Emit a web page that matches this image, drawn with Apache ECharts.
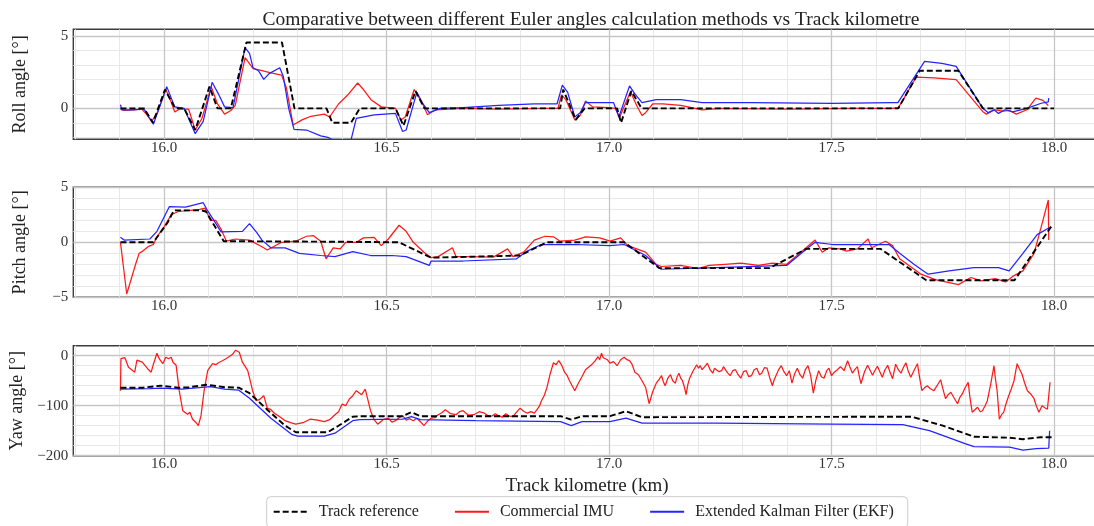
<!DOCTYPE html>
<html>
<head>
<meta charset="utf-8">
<script src="https://cdn.jsdelivr.net/npm/echarts@6/dist/echarts.min.js"></script>
<style>
  html, body { margin: 0; padding: 0; background: #ffffff; }
  #chart { width: 1094px; height: 526px; }
</style>
</head>
<body>
<div id="chart"></div>
<script>
// ---- Tick values -------------------------------------------------------
const xMajorTicks = [16.0, 16.5, 17.0, 17.5, 18.0];
const xMinorTicks = [15.8, 15.9, 16.1, 16.2, 16.3, 16.4, 16.6, 16.7, 16.8, 16.9,
                     17.1, 17.2, 17.3, 17.4, 17.6, 17.7, 17.8, 17.9];
const rollMajorTicks = [0, 5];
const rollMinorTicks = [-2, -1, 1, 2, 3, 4];
const pitchMajorTicks = [-5, 0, 5];
const pitchMinorTicks = [-4, -3, -2, -1, 1, 2, 3, 4];
const yawMajorTicks = [-200, -100, 0];
const yawMinorTicks = [-180, -160, -140, -120, -80, -60, -40, -20];

const seriesNames = ['Track reference', 'Commercial IMU', 'Extended Kalman Filter (EKF)'];

// ---- Roll angle [deg] vs track km ---------------------------------------
const rollRef = [[15.902,0],[15.955,0],[15.975,-1.0],[16.002,1.3],[16.025,0],[16.045,0],[16.07,-1.5],
  [16.102,1.5],[16.12,0],[16.15,0],[16.185,4.55],[16.265,4.55],[16.293,0],[16.365,0],[16.378,-1.0],
  [16.42,-1.0],[16.44,0],[16.52,0],[16.538,-1.2],[16.565,1.2],[16.585,0],[16.89,0],[16.897,1.3],
  [16.925,-0.8],[16.945,0],[17.018,0],[17.027,-1.0],[17.05,1.2],[17.073,0],[17.65,0],[17.698,2.6],
  [17.785,2.6],[17.84,0],[18.0,0]];
const rollIMU = [[15.902,-0.05],[15.91,-0.15],[15.93,-0.1],[15.95,-0.05],[15.96,-0.4],[15.972,-0.9],
  [15.985,-0.3],[16.004,1.3],[16.015,0.5],[16.024,-0.25],[16.035,-0.05],[16.055,-0.05],[16.07,-1.5],
  [16.085,-0.7],[16.106,1.5],[16.12,0.3],[16.136,-0.4],[16.15,-0.15],[16.16,0.2],[16.182,3.5],
  [16.2,2.75],[16.22,2.6],[16.24,2.45],[16.264,2.3],[16.275,1.4],[16.29,-1.15],[16.31,-0.8],
  [16.33,-0.55],[16.36,-0.4],[16.372,-0.6],[16.392,0.3],[16.412,0.9],[16.435,1.75],[16.448,1.3],
  [16.465,0.6],[16.488,0.1],[16.52,0.0],[16.532,-0.8],[16.542,-0.6],[16.562,1.3],[16.578,0.5],
  [16.592,-0.45],[16.61,-0.1],[16.67,0.0],[16.75,-0.05],[16.85,0.0],[16.885,0.0],[16.893,0.93],
  [16.903,0.6],[16.923,-0.8],[16.935,-0.5],[16.947,0.5],[16.963,0.1],[17.0,0.05],[17.014,0.0],
  [17.024,-0.6],[17.048,1.15],[17.062,0.2],[17.074,-0.5],[17.082,-0.3],[17.098,0.3],[17.121,0.3],
  [17.161,0.2],[17.209,-0.1],[17.25,0.0],[17.4,-0.05],[17.55,0.0],[17.637,0.0],[17.65,0.05],
  [17.661,0.6],[17.69,2.15],[17.73,2.1],[17.78,1.98],[17.84,-0.23],[17.848,-0.4],[17.867,-0.1],
  [17.885,-0.2],[17.9,-0.15],[17.915,-0.4],[17.939,-0.1],[17.959,0.7],[17.975,0.55],[17.987,0.2]];
const rollEKF = [[15.902,0.25],[15.905,-0.1],[15.93,-0.1],[15.955,-0.05],[15.976,-1.1],[16.006,1.5],
  [16.024,0.1],[16.045,0.0],[16.07,-1.75],[16.088,-0.9],[16.108,1.8],[16.122,1.0],[16.136,0.1],
  [16.155,0.05],[16.182,4.2],[16.192,3.8],[16.2,2.8],[16.212,2.6],[16.224,2.0],[16.236,2.4],
  [16.26,2.8],[16.268,2.2],[16.28,0.0],[16.292,-1.45],[16.32,-1.5],[16.352,-1.9],[16.368,-2.0],
  [16.38,-2.2],[16.42,-2.2],[16.432,-0.7],[16.472,-0.45],[16.52,-0.35],[16.536,-1.6],[16.544,-1.5],
  [16.568,1.1],[16.58,0.4],[16.596,-0.3],[16.62,0.0],[16.672,0.05],[16.752,0.2],[16.832,0.3],
  [16.883,0.3],[16.895,1.6],[16.907,1.1],[16.923,-0.6],[16.935,-0.3],[16.947,0.4],[17.01,0.4],
  [17.022,-0.6],[17.046,1.55],[17.058,1.0],[17.074,0.4],[17.106,0.6],[17.161,0.6],[17.209,0.4],
  [17.32,0.4],[17.5,0.35],[17.637,0.4],[17.649,0.4],[17.709,3.25],[17.748,3.1],[17.78,2.9],
  [17.84,0.0],[17.852,-0.3],[17.865,-0.1],[17.875,-0.35],[17.89,-0.1],[17.907,-0.25],[17.939,0.0],
  [17.971,0.35],[17.987,0.45],[17.988,0.7]];

// ---- Pitch angle [deg] vs track km --------------------------------------
const pitchRef = [[15.902,0],[15.976,0],[16.008,1.8],[16.022,2.9],[16.084,2.9],[16.094,2.8],
  [16.134,0.1],[16.4,0.05],[16.528,0.0],[16.6,-1.4],[16.8,-1.2],[16.86,0.0],[17.034,0.0],
  [17.113,-2.35],[17.36,-2.35],[17.443,-0.6],[17.61,-0.6],[17.713,-3.45],[17.911,-3.45],[17.994,1.45]];
const pitchIMU = [[15.902,0.0],[15.908,-2.0],[15.916,-4.7],[15.925,-3.5],[15.936,-2.0],[15.944,-1.0],
  [15.952,-0.8],[15.964,-0.4],[15.976,-0.2],[15.984,0.5],[16.0,1.4],[16.016,2.5],[16.032,2.8],
  [16.06,2.9],[16.08,3.0],[16.092,3.1],[16.104,2.0],[16.116,2.0],[16.128,1.2],[16.14,0.1],
  [16.16,0.3],[16.192,0.2],[16.22,-0.4],[16.232,-0.7],[16.264,0.0],[16.296,0.1],[16.32,0.55],
  [16.336,0.6],[16.352,0.1],[16.364,-1.5],[16.38,-0.5],[16.396,-0.6],[16.408,0.0],[16.432,0.0],
  [16.448,0.4],[16.472,0.45],[16.488,-0.3],[16.504,0.3],[16.528,1.55],[16.544,1.0],[16.56,0.0],
  [16.584,-0.9],[16.6,-1.4],[16.616,-1.3],[16.648,-0.5],[16.656,-1.3],[16.688,-1.3],[16.74,-1.35],
  [16.772,-0.6],[16.784,-1.3],[16.808,-0.9],[16.832,0.2],[16.856,0.55],[16.875,0.5],[16.89,0.1],
  [16.923,0.2],[16.947,0.5],[16.979,0.4],[17.002,0.1],[17.026,0.4],[17.042,-0.3],[17.082,-0.9],
  [17.106,-2.0],[17.117,-2.2],[17.161,-2.1],[17.2,-2.4],[17.225,-2.1],[17.26,-2.0],[17.296,-1.9],
  [17.336,-2.1],[17.367,-1.9],[17.399,-2.0],[17.431,-0.9],[17.463,0.2],[17.479,-0.9],[17.494,-0.5],
  [17.518,-0.6],[17.534,-0.8],[17.558,-0.6],[17.582,0.3],[17.59,-0.5],[17.621,0.1],[17.637,-0.3],
  [17.653,-1.5],[17.677,-2.2],[17.701,-2.9],[17.733,-3.4],[17.785,-3.85],[17.813,-3.2],[17.836,-3.5],
  [17.868,-3.3],[17.891,-3.6],[17.907,-3.1],[17.93,-2.6],[17.955,-1.0],[17.975,2.0],[17.987,3.85],
  [17.988,0.2]];
const pitchEKF = [[15.902,0.45],[15.91,0.2],[15.968,0.3],[15.984,1.0],[16.012,3.25],[16.048,3.2],
  [16.088,3.6],[16.096,3.0],[16.112,2.0],[16.128,0.95],[16.176,1.0],[16.192,1.7],[16.208,0.9],
  [16.22,0.2],[16.24,-0.5],[16.272,-0.5],[16.304,-1.0],[16.352,-1.2],[16.384,-1.3],[16.424,-0.85],
  [16.464,-1.2],[16.512,-1.2],[16.544,-1.3],[16.596,-2.1],[16.6,-1.7],[16.672,-1.7],[16.792,-1.5],
  [16.816,-0.8],[16.848,-0.2],[16.923,-0.2],[17.002,-0.3],[17.034,-0.2],[17.082,-1.2],[17.117,-2.45],
  [17.24,-2.3],[17.399,-2.1],[17.447,-0.5],[17.463,0.0],[17.502,-0.2],[17.629,-0.2],[17.653,-1.0],
  [17.685,-2.0],[17.717,-2.9],[17.764,-2.6],[17.82,-2.3],[17.875,-2.3],[17.899,-2.6],[17.93,-1.0],
  [17.962,0.7],[17.99,1.35]];

// ---- Yaw angle [deg] vs track km ----------------------------------------
const yawRef = [[15.902,-64],[15.952,-64],[15.992,-60],[16.032,-64],[16.056,-63],[16.096,-58],
  [16.136,-63],[16.168,-64],[16.192,-75],[16.232,-108],[16.272,-140],[16.296,-153],[16.368,-153],
  [16.392,-140],[16.424,-122],[16.44,-121],[16.536,-121],[16.556,-113],[16.576,-121],[16.891,-121],
  [16.915,-128],[16.939,-121],[17.002,-121],[17.038,-111],[17.074,-123],[17.68,-122],[17.75,-140],
  [17.82,-162],[17.9,-164],[17.93,-167],[17.97,-163],[18.0,-163]];
const yawIMU = [[15.902,-70],[15.903,-6],[15.912,-4],[15.92,-23],[15.934,-33],[15.937,-36],
  [15.939,-9],[15.951,-13],[15.963,-26],[15.971,-33],[15.976,-17],[15.984,5],[15.989,-6],
  [15.997,-16],[16.004,-3],[16.01,-6],[16.016,-3],[16.02,-13],[16.027,-19],[16.034,-70],
  [16.042,-110],[16.053,-117],[16.058,-113],[16.064,-127],[16.072,-134],[16.077,-140],[16.083,-120],
  [16.09,-70],[16.098,-30],[16.104,-22],[16.109,-16],[16.116,-18],[16.124,-13],[16.131,-10],
  [16.139,-6],[16.146,-2],[16.154,3],[16.161,11],[16.169,7],[16.176,-13],[16.188,-30],[16.199,-70],
  [16.207,-90],[16.214,-88],[16.224,-80],[16.232,-105],[16.24,-108],[16.248,-115],[16.26,-122],
  [16.272,-130],[16.284,-134],[16.296,-137],[16.312,-134],[16.328,-127],[16.345,-129],[16.36,-132],
  [16.372,-128],[16.384,-118],[16.392,-112],[16.4,-97],[16.408,-100],[16.416,-87],[16.424,-80],
  [16.432,-70],[16.444,-78],[16.452,-67],[16.464,-110],[16.472,-128],[16.48,-137],[16.492,-128],
  [16.504,-125],[16.512,-133],[16.52,-130],[16.528,-124],[16.536,-120],[16.544,-129],[16.552,-126],
  [16.56,-130],[16.568,-125],[16.576,-132],[16.584,-140],[16.592,-131],[16.6,-125],[16.608,-124],
  [16.616,-118],[16.624,-114],[16.632,-108],[16.644,-116],[16.656,-118],[16.664,-112],[16.672,-110],
  [16.684,-119],[16.696,-118],[16.708,-112],[16.72,-115],[16.728,-120],[16.736,-121],[16.744,-116],
  [16.752,-120],[16.76,-123],[16.768,-116],[16.776,-121],[16.784,-122],[16.792,-113],[16.8,-105],
  [16.808,-111],[16.816,-115],[16.824,-112],[16.832,-115],[16.838,-108],[16.844,-100],[16.848,-90],
  [16.854,-80],[16.86,-65],[16.868,-35],[16.875,-14],[16.881,-18],[16.887,-10],[16.894,-20],
  [16.9,-33],[16.906,-40],[16.911,-50],[16.917,-60],[16.923,-70],[16.927,-62],[16.931,-55],
  [16.939,-42],[16.947,-28],[16.955,-22],[16.963,-16],[16.969,-10],[16.975,-2],[16.979,-8],
  [16.983,5],[16.987,-4],[16.99,0],[16.996,-8],[17.002,-15],[17.01,-12],[17.018,-20],[17.026,-8],
  [17.034,-3],[17.04,-8],[17.046,-10],[17.052,-18],[17.058,-33],[17.066,-38],[17.074,-50],
  [17.082,-63],[17.09,-96],[17.098,-72],[17.106,-55],[17.112,-48],[17.118,-40],[17.122,-52],
  [17.126,-60],[17.132,-45],[17.138,-38],[17.143,-50],[17.149,-55],[17.153,-42],[17.157,-35],
  [17.161,-45],[17.165,-50],[17.169,-62],[17.173,-78],[17.177,-58],[17.181,-45],[17.189,-30],
  [17.197,-18],[17.201,-25],[17.205,-20],[17.209,-28],[17.213,-30],[17.217,-20],[17.221,-15],
  [17.227,-28],[17.233,-35],[17.237,-25],[17.241,-22],[17.247,-32],[17.253,-30],[17.257,-22],
  [17.261,-20],[17.266,-34],[17.272,-40],[17.278,-30],[17.284,-28],[17.29,-38],[17.296,-45],
  [17.302,-32],[17.308,-30],[17.314,-42],[17.32,-40],[17.326,-28],[17.332,-25],[17.338,-38],
  [17.343,-35],[17.349,-24],[17.355,-25],[17.361,-44],[17.367,-60],[17.371,-48],[17.375,-40],
  [17.381,-28],[17.387,-20],[17.393,-32],[17.399,-40],[17.405,-30],[17.411,-55],[17.417,-36],
  [17.423,-25],[17.429,-38],[17.435,-45],[17.441,-28],[17.447,-20],[17.453,-40],[17.459,-75],
  [17.465,-48],[17.471,-30],[17.477,-42],[17.483,-45],[17.489,-30],[17.494,-25],[17.5,-40],
  [17.506,-33],[17.513,-28],[17.52,-22],[17.528,-30],[17.536,-10],[17.541,-22],[17.547,-35],
  [17.552,-28],[17.558,-22],[17.562,-40],[17.566,-56],[17.574,-32],[17.581,-19],[17.586,-28],
  [17.592,-39],[17.597,-30],[17.603,-21],[17.609,-33],[17.614,-43],[17.62,-28],[17.626,-19],
  [17.631,-32],[17.637,-46],[17.641,-30],[17.644,-17],[17.65,-28],[17.656,-35],[17.661,-24],
  [17.667,-14],[17.672,-30],[17.678,-43],[17.686,-28],[17.693,-16],[17.698,-45],[17.703,-70],
  [17.709,-64],[17.715,-60],[17.722,-66],[17.73,-70],[17.737,-60],[17.745,-48],[17.75,-66],
  [17.756,-86],[17.762,-78],[17.768,-73],[17.775,-84],[17.783,-96],[17.788,-84],[17.794,-76],
  [17.8,-64],[17.807,-53],[17.811,-84],[17.816,-113],[17.822,-108],[17.828,-103],[17.834,-112],
  [17.839,-110],[17.845,-100],[17.85,-90],[17.858,-55],[17.865,-20],[17.868,-45],[17.872,-70],
  [17.877,-127],[17.882,-118],[17.887,-113],[17.892,-96],[17.898,-80],[17.904,-66],[17.91,-50],
  [17.914,-30],[17.917,-16],[17.922,-26],[17.928,-37],[17.934,-55],[17.94,-70],[17.947,-76],
  [17.955,-86],[17.96,-100],[17.966,-113],[17.973,-100],[17.979,-104],[17.985,-107],[17.991,-53]];
const yawEKF = [[15.902,-67],[15.968,-66],[15.992,-65],[16.04,-67],[16.104,-62],[16.136,-67],
  [16.168,-69],[16.192,-85],[16.24,-125],[16.288,-158],[16.3,-161],[16.36,-161],[16.384,-155],
  [16.424,-130],[16.44,-128],[16.536,-127],[16.556,-122],[16.576,-128],[16.7,-130],[16.891,-132],
  [16.915,-140],[16.939,-132],[17.002,-132],[17.038,-125],[17.074,-135],[17.24,-135],[17.5,-137],
  [17.66,-138],[17.72,-150],[17.8,-176],[17.82,-182],[17.9,-183],[17.93,-189],[17.96,-186],
  [17.988,-185],[17.99,-150]];

// ---- Layout ---------------------------------------------------------------
const FONT = "'Liberation Serif', 'DejaVu Serif', serif";
const TEXT_COLOR = '#333333';
const X_MIN = 15.796, X_MAX = 18.105;
const GRID_LEFT = 73.3, GRID_WIDTH = 1027.5, GRID_HEIGHT = 110;

const panels = [
  { label: 'Roll angle [°]',  top: 29.3,  min: -2.14, max: 5.46, major: rollMajorTicks,  minor: rollMinorTicks,  data: [rollRef, rollIMU, rollEKF] },
  { label: 'Pitch angle [°]', top: 187.3, min: -5,    max: 5,    major: pitchMajorTicks, minor: pitchMinorTicks, data: [pitchRef, pitchIMU, pitchEKF] },
  { label: 'Yaw angle [°]',   top: 345.7, min: -200,  max: 20,   major: yawMajorTicks,   minor: yawMinorTicks,   data: [yawRef, yawIMU, yawEKF] }
];

const lineStyles = [
  { color: '#000000', width: 1.9, type: [6, 3] },
  { color: '#ff1a1a', width: 1.25, type: 'solid' },
  { color: '#2424ff', width: 1.25, type: 'solid' }
];
const zOrder = [4, 2, 3];

const fmtSigned = v => (v < 0 ? '\u2212' + Math.abs(v) : String(v));

function gridLines(p) {
  const minor = { color: '#e8e8e8', width: 1, type: 'solid' };
  const major = { color: '#c6c6c6', width: 1.3, type: 'solid' };
  return [
    ...xMinorTicks.map(v => ({ xAxis: v, lineStyle: minor })),
    ...p.minor.map(v => ({ yAxis: v, lineStyle: minor })),
    ...xMajorTicks.map(v => ({ xAxis: v, lineStyle: major })),
    ...p.major.map(v => ({ yAxis: v, lineStyle: major }))
  ];
}

const grids = [], xAxes = [], yAxes = [], series = [];
panels.forEach((p, i) => {
  grids.push({
    left: GRID_LEFT, top: p.top, width: GRID_WIDTH, height: GRID_HEIGHT,
    show: true, borderColor: '#3c3c3c', borderWidth: 1.4, backgroundColor: '#ffffff',
    containLabel: false, outerBoundsMode: 'none'
  });
  const isLast = i === panels.length - 1;
  xAxes.push({
    type: 'value', gridIndex: i, min: X_MIN, max: X_MAX,
    axisLine: { show: false }, axisTick: { show: false }, splitLine: { show: false },
    axisLabel: {
      customValues: xMajorTicks, formatter: v => v.toFixed(1),
      fontFamily: FONT, fontSize: 15, color: TEXT_COLOR, margin: 1
    },
    name: isLast ? 'Track kilometre (km)' : '',
    nameLocation: 'middle', nameGap: 21,
    nameTextStyle: { fontFamily: FONT, fontSize: 19, color: '#222222' }
  });
  yAxes.push({
    type: 'value', gridIndex: i, min: p.min, max: p.max,
    axisLine: { show: false }, axisTick: { show: false }, splitLine: { show: false },
    axisLabel: {
      customValues: p.major, formatter: fmtSigned,
      fontFamily: FONT, fontSize: 15, color: TEXT_COLOR, margin: 5
    },
    name: p.label, nameLocation: 'middle', nameRotate: 90, nameGap: 44,
    nameTextStyle: { fontFamily: FONT, fontSize: 18, color: '#222222' }
  });
  p.data.forEach((d, k) => {
    const s = {
      name: seriesNames[k], type: 'line', xAxisIndex: i, yAxisIndex: i,
      data: d, showSymbol: false, symbol: 'none', clip: true, z: zOrder[k],
      lineStyle: lineStyles[k], itemStyle: { color: lineStyles[k].color },
      animation: false, silent: true
    };
    if (k === 0) {
      s.markLine = {
        silent: true, symbol: ['none', 'none'], label: { show: false },
        animation: false, z: 1, emphasis: { disabled: true },
        data: gridLines(p)
      };
    }
    series.push(s);
  });
});

const chart = echarts.init(document.getElementById('chart'), null, { renderer: 'canvas', width: 1094, height: 526 });
chart.setOption({
  backgroundColor: '#ffffff',
  animation: false,
  title: {
    text: 'Comparative between different Euler angles calculation methods vs Track kilometre',
    left: 586, top: 5, textAlign: 'center',
    textStyle: { fontFamily: FONT, fontSize: 19.5, fontWeight: 'normal', color: '#222222' }
  },
  legend: {
    data: seriesNames, left: 266.7, top: 496.7, orient: 'horizontal',
    itemWidth: 34, itemHeight: 12, itemGap: 35,
    padding: [7, 14, 8, 6],
    borderColor: '#cccccc', borderWidth: 1, borderRadius: 4, backgroundColor: '#ffffff',
    itemStyle: { opacity: 0, borderWidth: 0 },
    textStyle: { fontFamily: FONT, fontSize: 16, color: '#222222', padding: [0, 0, 0, 6] },
    selectedMode: false
  },
  grid: grids, xAxis: xAxes, yAxis: yAxes, series: series
});
</script>
</body>
</html>
